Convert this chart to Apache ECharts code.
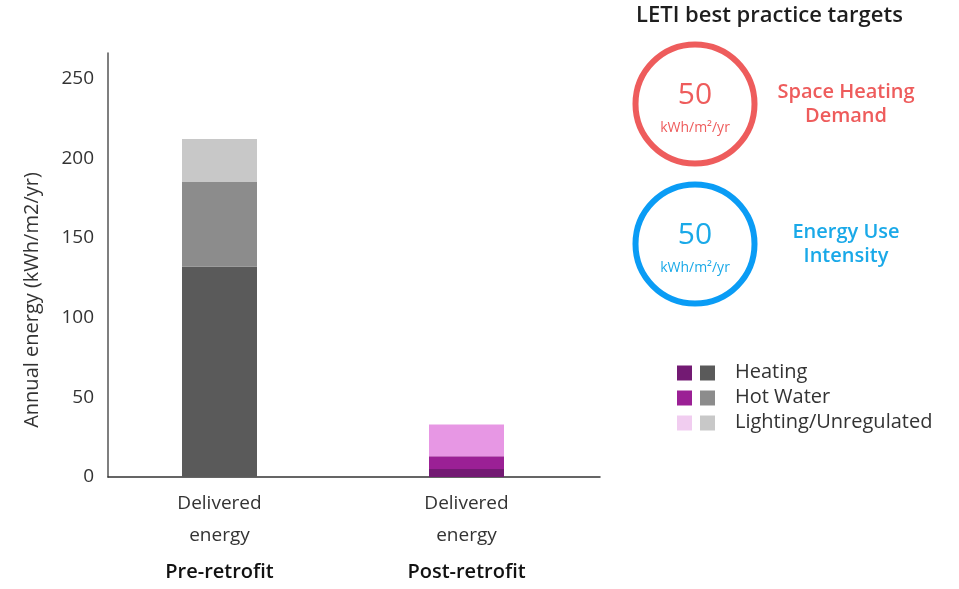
<!DOCTYPE html>
<html>
<head>
<meta charset="utf-8">
<script src="https://cdn.jsdelivr.net/npm/echarts@6/dist/echarts.min.js"></script>
<style>html,body{margin:0;padding:0;background:#fff}#c{width:959px;height:589px}</style>
</head>
<body>
<div id="c"></div>
<script>
// ---- data ----
const categories = ['Pre-retrofit', 'Post-retrofit'];
const subLabel = 'Delivered\nenergy';
const seriesNames = ['Heating', 'Hot Water', 'Lighting/Unregulated'];
const heating = [132, 5];
const hotWater = [53, 8];
const lighting = [27, 20];
const yTicks = [0, 50, 100, 150, 200, 250];
const yMax = 266;
const targets = [
  { value: '50', unit: 'kWh/m²/yr', label: 'Space Heating\nDemand' },
  { value: '50', unit: 'kWh/m²/yr', label: 'Energy Use\nIntensity' }
];

// ---- styles ----
const FONT = '"Open Sans", "Noto Sans", sans-serif';
const greyColors = ['#5a5a5a', '#8c8c8c', '#c8c8c8'];
const purpleColors = ['#731a73', '#9b2095', '#e797e4'];
const legendPurple = ['#731a73', '#9b2095', '#f1cdf0'];
const values = [heating, hotWater, lighting];

const series = seriesNames.map((name, si) => ({
  name: name,
  type: 'bar',
  stack: 'total',
  xAxisIndex: 0,
  yAxisIndex: 0,
  barWidth: 75,
  data: values[si].map((v, ci) => ({
    value: v,
    itemStyle: { color: ci === 0 ? greyColors[si] : purpleColors[si] }
  }))
}));

const ringColors = ['#ee5c5c', '#0a9cf5'];
const textColors = ['#ee5c5c', '#1aa9e8'];
const graphics = [{
  type: 'text', left: 636, top: 5,
  style: { text: 'LETI best practice targets', font: '600 22px ' + FONT, fill: '#1e1e1e' }
}];
targets.forEach((t, i) => {
  const cy = 104 + i * 140;
  graphics.push({ type: 'circle', shape: { cx: 695, cy: cy, r: 59.5 }, style: { fill: 'none', stroke: ringColors[i], lineWidth: 6 } });
  graphics.push({ type: 'text', x: 695, y: cy - 9, style: { text: t.value, font: '30px ' + FONT, fill: textColors[i], textAlign: 'center', textVerticalAlign: 'middle' } });
  graphics.push({ type: 'text', x: 695, y: cy + 24, style: { text: t.unit, font: '14px ' + FONT, fill: textColors[i], textAlign: 'center', textVerticalAlign: 'middle' } });
  graphics.push({ type: 'text', x: 846, y: cy + 0, style: { text: t.label, font: '600 20px ' + FONT, lineHeight: 24, fill: textColors[i], textAlign: 'center', textVerticalAlign: 'middle' } });
});
seriesNames.forEach((name, i) => {
  const cy = 373 + i * 25;
  graphics.push({ type: 'rect', shape: { x: 677, y: cy - 7.5, width: 15, height: 15 }, style: { fill: legendPurple[i] } });
  graphics.push({ type: 'rect', shape: { x: 700, y: cy - 7.5, width: 15, height: 15 }, style: { fill: greyColors[i] } });
  graphics.push({ type: 'text', x: 735, y: cy - 1, style: { text: name, font: '20px ' + FONT, fill: '#333', textVerticalAlign: 'middle' } });
});

const chart = echarts.init(document.getElementById('c'), null, { renderer: 'canvas' });
chart.setOption({
  animation: false,
  backgroundColor: '#fff',
  grid: [
    { left: 96, width: 494, top: 53, bottom: 112 },
    { left: 108, width: 492, top: 53, bottom: 112 }
  ],
  xAxis: [
    {
      type: 'category', gridIndex: 0, data: categories,
      axisLine: { show: false }, axisTick: { show: false },
      axisLabel: {
        margin: 11,
        formatter: v => '{a|Delivered}\n{a|energy}\n{b|' + v + '}',
        rich: {
          a: { fontFamily: FONT, fontSize: 19, color: '#333', lineHeight: 32 },
          b: { fontFamily: FONT, fontSize: 20, color: '#111', fontWeight: 600, lineHeight: 40 }
        }
      }
    },
    {
      type: 'value', gridIndex: 1, min: 0, max: 1,
      axisLine: { show: true, lineStyle: { color: '#333', width: 1.5 } },
      axisTick: { show: false }, axisLabel: { show: false }, splitLine: { show: false }
    }
  ],
  yAxis: [
    { type: 'value', gridIndex: 0, min: 0, max: yMax, show: false, splitLine: { show: false } },
    {
      type: 'value', gridIndex: 1, min: 0, max: yMax, interval: yTicks[1] - yTicks[0],
      name: 'Annual energy (kWh/m2/yr)', nameLocation: 'middle', nameGap: 66,
      nameTextStyle: { fontFamily: FONT, fontSize: 20, color: '#333', padding: [0, 70, 0, 0] },
      axisLine: { show: true, lineStyle: { color: '#555', width: 1.5 } },
      axisTick: { show: false }, splitLine: { show: false },
      axisLabel: { showMaxLabel: false, margin: 14, fontFamily: FONT, fontSize: 19, color: '#333',
        formatter: v => (yTicks.indexOf(v) >= 0 ? String(v) : '') }
    }
  ],
  series: series,
  graphic: graphics
});
</script>
</body>
</html>
